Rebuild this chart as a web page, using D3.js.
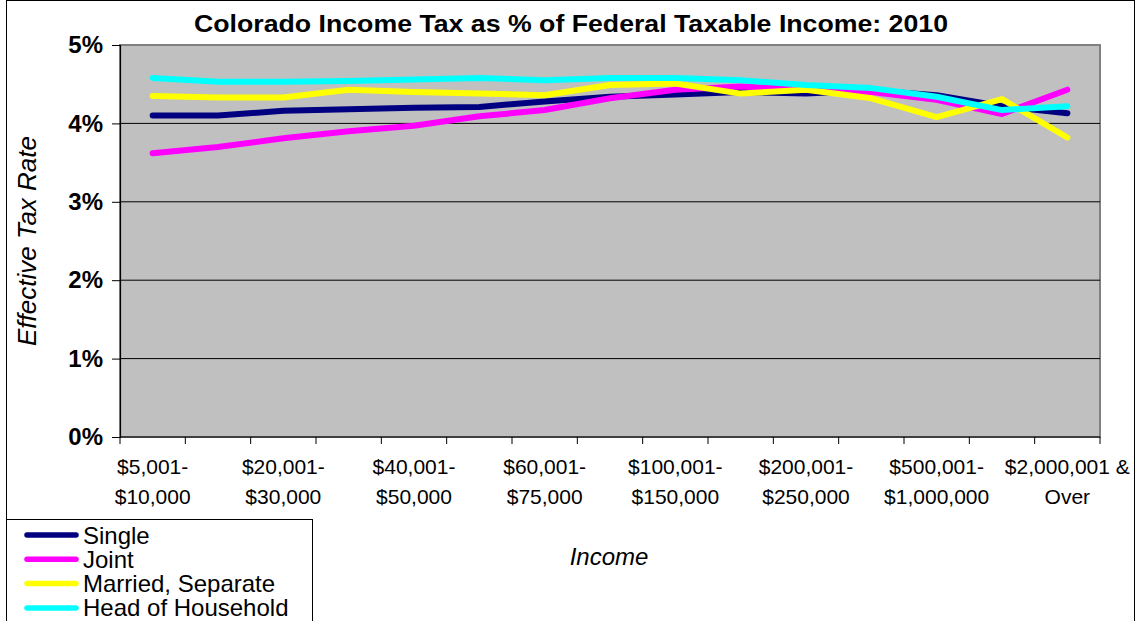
<!DOCTYPE html>
<html>
<head>
<meta charset="utf-8">
<script src="https://cdn.jsdelivr.net/npm/d3@7/dist/d3.min.js"></script>
<style>
  html, body { margin: 0; padding: 0; background: #fff; }
  svg { display: block; font-family: Arial, "Liberation Sans", sans-serif; }
</style>
</head>
<body>
<svg id="chart" width="1138" height="621"></svg>
<script>
// Income brackets (every other one is labelled on the axis)
const categories = [
  "$5,001-|$10,000", "$10,001-|$20,000", "$20,001-|$30,000", "$30,001-|$40,000",
  "$40,001-|$50,000", "$50,001-|$60,000", "$60,001-|$75,000", "$75,001-|$100,000",
  "$100,001-|$150,000", "$150,001-|$200,000", "$200,001-|$250,000", "$250,001-|$500,000",
  "$500,001-|$1,000,000", "$1,000,001-|$2,000,000", "$2,000,001 &|Over"
];

// Effective tax rate (%) by filing status
const single  = [4.10, 4.10, 4.16, 4.18, 4.20, 4.21, 4.28, 4.34, 4.37, 4.40, 4.38, 4.42, 4.36, 4.22, 4.13];
const joint   = [3.62, 3.70, 3.81, 3.90, 3.97, 4.09, 4.17, 4.32, 4.43, 4.47, 4.44, 4.40, 4.30, 4.12, 4.43];
const married = [4.35, 4.33, 4.33, 4.43, 4.40, 4.38, 4.36, 4.49, 4.51, 4.38, 4.43, 4.32, 4.08, 4.31, 3.82];
const head    = [4.58, 4.53, 4.53, 4.54, 4.56, 4.58, 4.55, 4.58, 4.58, 4.55, 4.49, 4.45, 4.34, 4.17, 4.22];

const seriesNames  = ["Single", "Joint", "Married, Separate", "Head of Household"];
const seriesColors = ["#000080", "#ff00ff", "#ffff00", "#00ffff"];
const yTicks = [0, 1, 2, 3, 4, 5];

const series = [single, joint, married, head].map((values, i) => ({
  name: seriesNames[i], color: seriesColors[i], values
}));

const svg = d3.select("#chart");
const plot = { left: 120, right: 1100, top: 45, bottom: 437 };

const x = d3.scaleBand().domain(categories).range([plot.left, plot.right]).padding(0);
const y = d3.scaleLinear().domain([0, 5]).range([plot.bottom, plot.top]);

// Outer frame
svg.append("rect")
  .attr("x", 6.5).attr("y", 0.5).attr("width", 1128).attr("height", 700)
  .attr("fill", "#fff").attr("stroke", "#000").attr("stroke-width", 1);

// Title
svg.append("text")
  .attr("x", 571).attr("y", 32)
  .attr("text-anchor", "middle")
  .attr("font-size", 23).attr("font-weight", "bold")
  .attr("textLength", 754).attr("lengthAdjust", "spacingAndGlyphs")
  .text("Colorado Income Tax as % of Federal Taxable Income: 2010");

// Plot area
svg.append("rect")
  .attr("x", plot.left).attr("y", plot.top)
  .attr("width", plot.right - plot.left).attr("height", plot.bottom - plot.top)
  .attr("fill", "#c0c0c0").attr("stroke", "#808080").attr("stroke-width", 2);

// Horizontal gridlines
svg.append("g")
  .selectAll("line")
  .data(yTicks.filter(d => d > 0 && d < 5))
  .join("line")
  .attr("x1", plot.left).attr("x2", plot.right)
  .attr("y1", d => y(d)).attr("y2", d => y(d))
  .attr("stroke", "#000").attr("stroke-width", 1);

// Y axis
const yAxis = svg.append("g")
  .attr("transform", `translate(${plot.left},0)`)
  .call(d3.axisLeft(y).tickValues(yTicks).tickFormat(d => d + "%").tickSize(8).tickPadding(9));
yAxis.select(".domain").attr("stroke", "#000").attr("stroke-width", 1.2);
yAxis.selectAll(".tick line").attr("stroke", "#000");
yAxis.selectAll(".tick text")
  .attr("font-size", 24).attr("font-weight", "bold").attr("fill", "#000")
  .attr("font-family", "Arial, 'Liberation Sans', sans-serif");

// X axis baseline and category boundary ticks
svg.append("line")
  .attr("x1", plot.left).attr("x2", plot.right)
  .attr("y1", plot.bottom).attr("y2", plot.bottom)
  .attr("stroke", "#000").attr("stroke-width", 1.2);
const boundaries = categories.map(c => x(c)).concat([x(categories[categories.length - 1]) + x.bandwidth()]);
svg.append("g").selectAll("line")
  .data(boundaries)
  .join("line")
  .attr("x1", d => d).attr("x2", d => d)
  .attr("y1", plot.bottom).attr("y2", plot.bottom + 7)
  .attr("stroke", "#000");

// X tick labels (every other bracket)
const xLabels = svg.append("g").selectAll("text")
  .data(categories.filter((d, i) => i % 2 === 0))
  .join("text")
  .attr("x", d => x(d) + x.bandwidth() / 2)
  .attr("y", 474)
  .attr("text-anchor", "middle")
  .attr("font-size", 21);
xLabels.each(function(d) {
  const parts = d.split("|");
  const t = d3.select(this);
  parts.forEach((p, k) => {
    t.append("tspan").attr("x", x(d) + x.bandwidth() / 2).attr("dy", k === 0 ? 0 : 30).text(p);
  });
});

// Axis titles
svg.append("text")
  .attr("transform", "translate(36,241) rotate(-90)")
  .attr("text-anchor", "middle")
  .attr("font-size", 26).attr("font-style", "italic")
  .text("Effective Tax Rate");

svg.append("text")
  .attr("x", 609).attr("y", 565)
  .attr("text-anchor", "middle")
  .attr("font-size", 24).attr("font-style", "italic")
  .text("Income");

// Series lines
const line = d3.line()
  .x((d, i) => x(categories[i]) + x.bandwidth() / 2)
  .y(d => y(d));

svg.append("g").selectAll("path")
  .data(series)
  .join("path")
  .attr("d", d => line(d.values))
  .attr("fill", "none")
  .attr("stroke", d => d.color)
  .attr("stroke-width", 6)
  .attr("stroke-linejoin", "round")
  .attr("stroke-linecap", "round");

// Legend
const legend = svg.append("g");
legend.append("rect")
  .attr("x", 6.5).attr("y", 519.5).attr("width", 306).attr("height", 140)
  .attr("fill", "#fff").attr("stroke", "#000").attr("stroke-width", 1);
const items = legend.selectAll("g.item")
  .data(series)
  .join("g")
  .attr("class", "item")
  .attr("transform", (d, i) => `translate(0,${535 + i * 24.3})`);
items.append("line")
  .attr("x1", 27).attr("x2", 76).attr("y1", 0).attr("y2", 0)
  .attr("stroke", d => d.color).attr("stroke-width", 5.5).attr("stroke-linecap", "round");
items.append("text")
  .attr("x", 83).attr("y", 8.5)
  .attr("font-size", 24)
  .text(d => d.name);
</script>
</body>
</html>
